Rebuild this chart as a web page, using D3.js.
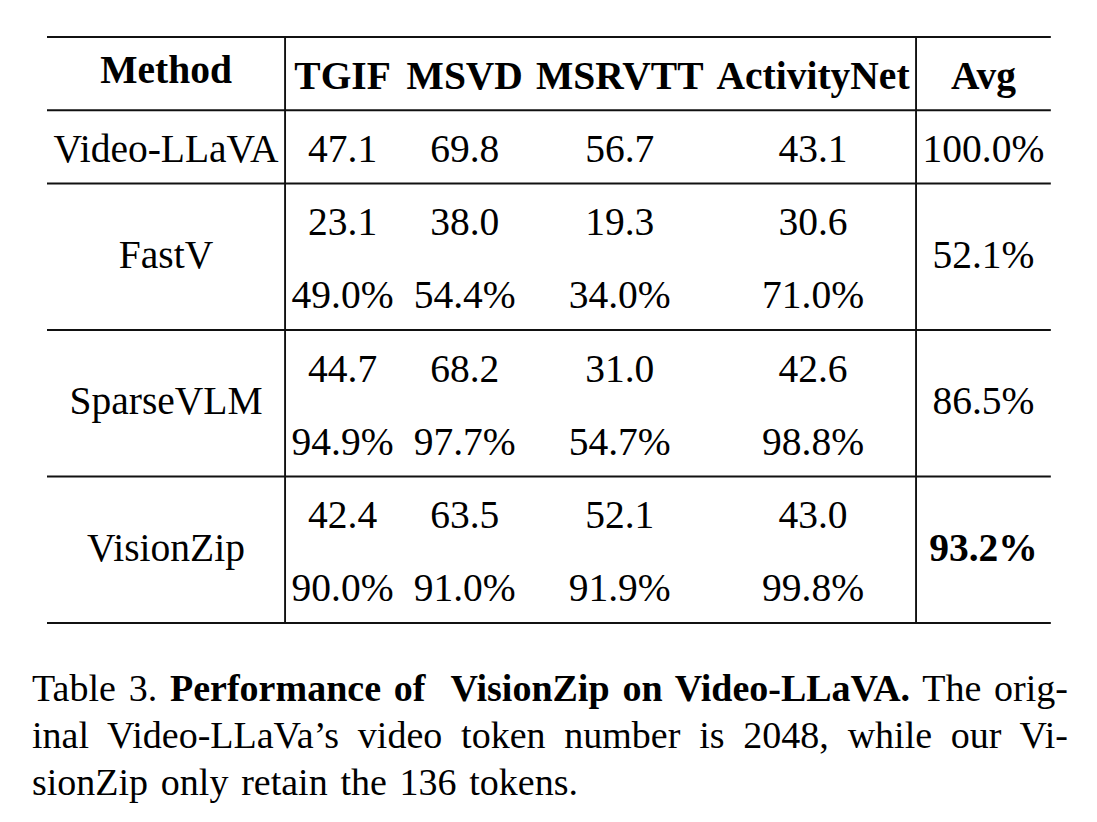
<!DOCTYPE html>
<html>
<head>
<meta charset="utf-8">
<script src="https://cdn.jsdelivr.net/npm/d3@7"></script>
<style>
  body { margin: 0; background: #fff; }
  text { font-family: "Liberation Serif", "Times New Roman", serif; fill: #000; white-space: pre; }
</style>
</head>
<body>
<script>
// table content
const datasets = ['TGIF', 'MSVD', 'MSRVTT', 'ActivityNet']
const methods = ['Video-LLaVA', 'FastV', 'SparseVLM', 'VisionZip']

const videoLLaVA = [47.1, 69.8, 56.7, 43.1]
const fastV = [23.1, 38.0, 19.3, 30.6]
const fastVPct = [49.0, 54.4, 34.0, 71.0]
const sparseVLM = [44.7, 68.2, 31.0, 42.6]
const sparseVLMPct = [94.9, 97.7, 54.7, 98.8]
const visionZip = [42.4, 63.5, 52.1, 43.0]
const visionZipPct = [90.0, 91.0, 91.9, 99.8]
const avgPct = [100.0, 52.1, 86.5, 93.2]

const captionLines = [
  [['Table 3. ', false], ['Performance of  VisionZip on Video-LLaVA.', true], [' The orig-', false]],
  [['inal Video-LLaVa\u2019s video token number is 2048, while our Vi-', false]],
  [['sionZip only retain the 136 tokens.', false]]
]

// canvas
const width = 1097,
  height = 822,
  fontSize = 39.5,
  pad = 6.5,
  left = 47

const svg = d3.select('body')
  .append('svg')
  .attr('width', width)
  .attr('height', height)

const fmt = d3.format('.1f')
const pct = v => fmt(v) + '%'

// each method is a group of one or two lines
const groups = [
  { name: methods[0], lines: [videoLLaVA.map(fmt)], avg: avgPct[0] },
  { name: methods[1], lines: [fastV.map(fmt), fastVPct.map(pct)], avg: avgPct[1] },
  { name: methods[2], lines: [sparseVLM.map(fmt), sparseVLMPct.map(pct)], avg: avgPct[2] },
  { name: methods[3], lines: [visionZip.map(fmt), visionZipPct.map(pct)], avg: avgPct[3], bold: true }
]
let start = 1
groups.forEach(g => { g.start = start; start += g.lines.length })
const nLines = start

// measuring helper
const probe = svg.append('text').attr('font-size', fontSize).attr('opacity', 0)
const textWidth = (s, bold) => {
  probe.attr('font-weight', bold ? 'bold' : 'normal').text(s)
  return probe.node().getComputedTextLength()
}

// column widths from their widest cell, like a tabular
const colDefs = [
  { key: 'Method', cells: [['Method', true]].concat(groups.map(g => [g.name, false])) }
].concat(datasets.map((d, i) => ({
  key: d,
  cells: [[d, true]].concat(groups.flatMap(g => g.lines.map(l => [l[i], false])))
}))).concat([
  { key: 'Avg', cells: [['Avg', true]].concat(groups.map(g => [pct(g.avg), !!g.bold])) }
])
const colWidths = colDefs.map(c => d3.max(c.cells, ([s, b]) => textWidth(s, b)) + 2 * pad)
const edges = [left].concat(Array.from(d3.cumsum(colWidths), w => left + w))
probe.remove()

const xCenter = d3.scaleOrdinal()
  .domain(colDefs.map(c => c.key))
  .range(colDefs.map((c, i) => (edges[i] + edges[i + 1]) / 2))

const y = d3.scaleBand()
  .domain(d3.range(nLines))
  .range([37, 623])

const bw = y.bandwidth()
const baseline = i => y(i) + bw * 0.705

// rules
const hRules = [0, 1].concat(groups.map(g => g.start + g.lines.length))
svg.append('g')
  .selectAll('line')
  .data(hRules)
  .enter()
  .append('line')
  .attr('x1', edges[0])
  .attr('x2', edges[edges.length - 1])
  .attr('y1', d => d === nLines ? y.range()[1] : y(d))
  .attr('y2', d => d === nLines ? y.range()[1] : y(d))
  .attr('stroke', '#111')
  .attr('stroke-width', 1.9)

svg.append('g')
  .selectAll('line')
  .data([edges[1], edges[edges.length - 2]])
  .enter()
  .append('line')
  .attr('x1', d => d)
  .attr('x2', d => d)
  .attr('y1', y.range()[0])
  .attr('y2', y.range()[1])
  .attr('stroke', '#111')
  .attr('stroke-width', 1.9)

// header
const header = svg.append('g').attr('font-size', fontSize).attr('font-weight', 'bold')
header.selectAll('text')
  .data(colDefs.map(c => c.key))
  .enter()
  .append('text')
  .attr('text-anchor', 'middle')
  .attr('x', d => xCenter(d))
  .attr('y', d => d === 'Method' ? baseline(0) - 6 : baseline(0))
  .text(d => d)

// body
const body = svg.append('g').attr('font-size', fontSize)
const groupMid = g => y(g.start) + bw * g.lines.length / 2

groups.forEach(g => {
  const midBase = g.lines.length === 1 ? baseline(g.start) : groupMid(g) + 11
  body.append('text')
    .attr('text-anchor', 'middle')
    .attr('x', xCenter('Method'))
    .attr('y', midBase)
    .text(g.name)

  g.lines.forEach((vals, li) => {
    body.selectAll(null)
      .data(vals)
      .enter()
      .append('text')
      .attr('text-anchor', 'middle')
      .attr('x', (d, i) => xCenter(datasets[i]))
      .attr('y', baseline(g.start + li))
      .text(d => d)
  })

  body.append('text')
    .attr('text-anchor', 'middle')
    .attr('font-weight', g.bold ? 'bold' : 'normal')
    .attr('x', xCenter('Avg'))
    .attr('y', midBase)
    .text(pct(g.avg))
})

// caption, justified by stretching the word gaps
const capX = 32,
  capTargets = [1036, 1036, 546],
  capBase = [701, 748, 795]

const cap = svg.append('g').attr('font-size', 38)
captionLines.forEach((parts, i) => {
  const t = cap.append('text')
    .attr('x', capX)
    .attr('y', capBase[i])
  t.selectAll('tspan')
    .data(parts)
    .enter()
    .append('tspan')
    .attr('font-weight', d => d[1] ? 'bold' : 'normal')
    .text(d => d[0])
  const natural = t.node().getComputedTextLength()
  const gaps = parts.map(p => p[0]).join('').split(' ').length - 1
  t.attr('word-spacing', (capTargets[i] - natural) / gaps)
})
</script>
</body>
</html>
